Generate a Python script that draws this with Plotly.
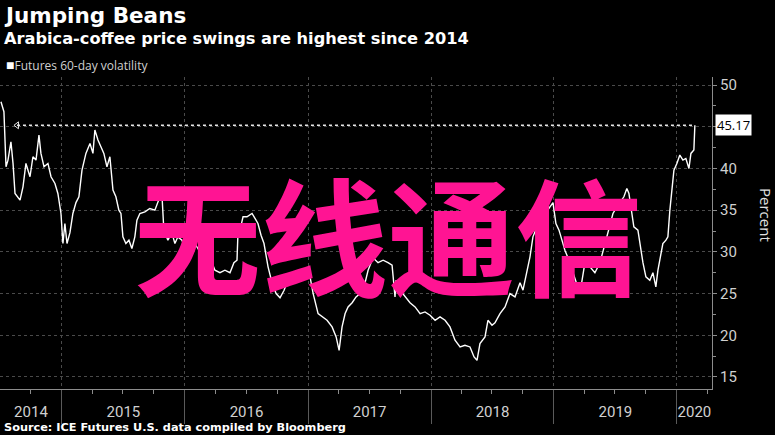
import plotly.graph_objects as go
import pandas as pd

# ---- data ----
decimal_years = [
    2014.504, 2014.528, 2014.545, 2014.561, 2014.585, 2014.602, 2014.618, 2014.642, 2014.659, 2014.683,
    2014.707, 2014.740, 2014.764, 2014.789, 2014.813, 2014.829, 2014.854, 2014.886, 2014.911, 2014.943,
    2014.967, 2014.992, 2015.008, 2015.024, 2015.041, 2015.065, 2015.089, 2015.114, 2015.138, 2015.163,
    2015.195, 2015.228, 2015.252, 2015.268, 2015.293, 2015.317, 2015.341, 2015.366, 2015.390, 2015.415,
    2015.439, 2015.463, 2015.480, 2015.496, 2015.520, 2015.545, 2015.569, 2015.593, 2015.610, 2015.634,
    2015.675, 2015.715, 2015.756, 2015.797, 2015.813, 2015.829, 2015.862, 2015.894, 2015.919, 2015.943,
    2015.976, 2016.008, 2016.041, 2016.081, 2016.122, 2016.163, 2016.203, 2016.220, 2016.244, 2016.285,
    2016.325, 2016.366, 2016.398, 2016.423, 2016.431, 2016.447, 2016.472, 2016.504, 2016.545, 2016.569,
    2016.593, 2016.618, 2016.642, 2016.675, 2016.707, 2016.740, 2016.772, 2016.805, 2016.837, 2016.870,
    2016.902, 2016.935, 2016.976, 2017.008, 2017.041, 2017.081, 2017.114, 2017.154, 2017.195, 2017.228,
    2017.252, 2017.276, 2017.301, 2017.325, 2017.358, 2017.390, 2017.423, 2017.455, 2017.488, 2017.528,
    2017.569, 2017.610, 2017.650, 2017.683, 2017.707, 2017.715, 2017.748, 2017.789, 2017.829, 2017.870,
    2017.911, 2017.951, 2017.992, 2018.033, 2018.073, 2018.114, 2018.154, 2018.195, 2018.236, 2018.276,
    2018.317, 2018.350, 2018.374, 2018.398, 2018.439, 2018.463, 2018.496, 2018.520, 2018.561, 2018.602,
    2018.642, 2018.683, 2018.724, 2018.748, 2018.780, 2018.805, 2018.829, 2018.862, 2018.894, 2018.927,
    2018.959, 2018.992, 2019.016, 2019.041, 2019.065, 2019.089, 2019.122, 2019.154, 2019.187, 2019.211,
    2019.252, 2019.293, 2019.333, 2019.374, 2019.407, 2019.431, 2019.455, 2019.480, 2019.512, 2019.537,
    2019.569, 2019.593, 2019.610, 2019.626, 2019.650, 2019.683, 2019.699, 2019.724, 2019.748, 2019.780,
    2019.805, 2019.829, 2019.846, 2019.870, 2019.886, 2019.911, 2019.927, 2019.943, 2019.959, 2019.976,
    2020.000, 2020.024, 2020.049, 2020.073, 2020.098, 2020.114, 2020.138, 2020.146,
]
volatility = [
    48.0, 46.8, 40.2, 41.0, 43.2, 40.6, 37.0, 36.6, 36.2, 37.8,
    40.6, 39.0, 41.4, 41.0, 44.0, 41.8, 40.2, 40.6, 39.0, 38.2,
    37.0, 34.6, 31.0, 33.4, 31.0, 32.3, 34.6, 35.9, 36.6, 39.8,
    41.8, 43.0, 41.8, 44.6, 43.4, 42.6, 41.8, 40.2, 41.4, 37.4,
    36.6, 35.0, 34.6, 31.8, 31.0, 31.4, 30.4, 31.8, 33.8, 34.6,
    34.8, 35.2, 35.0, 36.6, 37.0, 32.6, 31.4, 32.3, 31.0, 31.8,
    31.4, 30.2, 29.9, 31.0, 30.0, 29.5, 28.7, 28.7, 27.8, 27.5,
    27.8, 27.5, 28.7, 29.0, 32.3, 32.6, 34.2, 34.2, 34.6, 34.0,
    33.4, 32.0, 31.0, 28.2, 26.3, 25.0, 24.5, 25.4, 26.6, 27.0,
    27.5, 27.5, 27.0, 27.6, 25.0, 22.6, 22.2, 21.8, 21.0, 19.8,
    18.2, 21.0, 22.6, 23.4, 23.9, 24.6, 25.0, 25.8, 27.8, 29.3,
    28.7, 29.0, 28.7, 28.4, 24.6, 26.6, 25.4, 24.6, 23.9, 23.4,
    22.6, 22.8, 22.4, 21.8, 22.2, 21.8, 21.0, 19.4, 18.6, 18.8,
    18.6, 17.4, 17.0, 19.0, 19.8, 21.8, 21.2, 21.5, 22.6, 23.4,
    25.0, 24.6, 26.3, 25.4, 27.5, 29.4, 31.8, 33.0, 33.5, 34.5,
    35.2, 35.9, 33.4, 32.6, 31.4, 30.2, 29.0, 27.5, 26.0, 25.0,
    28.7, 28.2, 27.5, 28.7, 30.5, 31.8, 33.0, 34.6, 35.4, 35.9,
    36.6, 37.6, 37.0, 35.4, 33.0, 32.6, 31.0, 28.7, 27.0, 26.6,
    27.5, 25.8, 27.8, 29.8, 31.0, 31.4, 31.8, 35.0, 37.8, 39.8,
    40.6, 41.6, 41.0, 41.2, 40.0, 41.8, 42.2, 45.17,
]
year_labels = ["2014", "2015", "2016", "2017", "2018", "2019", "2020"]
y_ticks = [15, 20, 25, 30, 35, 40, 45, 50]
y_ticktext = ["15", "20", "25", "30", "35", "40", "", "50"]  # 45 sits under the value box
last_value = 45.17
ref_line_start = 2014.634
x_range_years = [2014.496, 2020.285]
y_range = [13.56, 50.96]


def to_date(y):
    yr = int(y // 1)
    start = pd.Timestamp(year=yr, month=1, day=1)
    end = pd.Timestamp(year=yr + 1, month=1, day=1)
    return start + (end - start) * (y - yr)


dates = [to_date(v) for v in decimal_years]
x_start, x_end = to_date(x_range_years[0]), to_date(x_range_years[1])

year_starts = [pd.Timestamp(year=int(y) + 1, month=1, day=1) for y in year_labels[:-1]]
label_pos = []
for lab in year_labels:
    a = max(pd.Timestamp(year=int(lab), month=1, day=1), x_start)
    b = min(pd.Timestamp(year=int(lab) + 1, month=1, day=1), x_end)
    label_pos.append(a + (b - a) / 2)

GRID = "#4a4a4a"
AXIS = "#8c8c8c"
TXT = "#d0d0d0"

fig = go.Figure()
fig.add_trace(go.Scatter(
    x=[to_date(ref_line_start), dates[-1]], y=[last_value, last_value],
    mode="lines", line=dict(color="#e8e8e8", width=1.6, dash="dot"),
    hoverinfo="skip", showlegend=False))
fig.add_trace(go.Scatter(
    x=[to_date(ref_line_start)], y=[last_value], mode="markers",
    marker=dict(symbol="triangle-left-open", size=6, color="#e8e8e8", line=dict(width=1, color="#e8e8e8")),
    hoverinfo="skip", showlegend=False))
fig.add_trace(go.Scatter(
    x=dates, y=volatility, mode="lines", line=dict(color="white", width=1.4),
    name="Futures 60-day volatility", showlegend=False))
fig.add_trace(go.Scatter(
    x=dates, y=volatility, xaxis="x2", mode="lines", line=dict(width=0),
    opacity=0, hoverinfo="skip", showlegend=False))

fig.update_layout(
    width=775, height=435,
    paper_bgcolor="black", plot_bgcolor="black",
    margin=dict(l=0, r=63, t=77, b=46),
    xaxis=dict(
        type="date", range=[x_start, x_end],
        tickvals=year_starts, showticklabels=False,
        ticks="outside", ticklen=34, tickcolor="#5a5a5a", tickwidth=1,
        showgrid=True, gridcolor=GRID, griddash="dot", gridwidth=1,
        showline=True, linecolor=AXIS, linewidth=1, zeroline=False,
        minor=dict(dtick="M3", tick0="2014-01-01", ticks="outside", ticklen=4,
                   tickcolor=AXIS, showgrid=False),
    ),
    xaxis2=dict(
        type="date", range=[x_start, x_end], overlaying="x", anchor="y", side="bottom",
        tickvals=label_pos, ticktext=year_labels,
        ticks="outside", ticklen=9, tickcolor="rgba(0,0,0,0)",
        showgrid=False, showline=False, zeroline=False,
        tickfont=dict(family="Liberation Sans Narrow, Roboto, sans-serif", size=15, color=TXT),
    ),
    yaxis=dict(
        side="right", range=y_range, tickvals=y_ticks, ticktext=y_ticktext,
        ticks="outside", ticklen=4, tickcolor=AXIS,
        showline=True, linecolor=AXIS, linewidth=1,
        showgrid=True, gridcolor=GRID, griddash="dot", zeroline=False,
        tickfont=dict(family="Liberation Sans Narrow, Roboto, sans-serif", size=15, color=TXT),
        minor=dict(dtick=2.5, tick0=0, ticks="outside", ticklen=3, tickcolor=AXIS, showgrid=False),
    ),
    showlegend=False,
)

PH = 312.0
def py(p):
    return (389 - p) / PH

ann = [
    dict(text="<b>Jumping Beans</b>", x=0.003, y=py(15), xanchor="left", yanchor="middle",
         font=dict(family="DejaVu Sans", size=21.5, color="white")),
    dict(text="<b>Arabica-coffee price swings are highest since 2014</b>", x=0.003, y=py(38),
         xanchor="left", yanchor="middle", font=dict(family="DejaVu Sans", size=16.2, color="white")),
    dict(text="<span style='color:white;font-size:14px'>■</span>Futures 60-day volatility", x=0.006, y=py(65),
         xanchor="left", yanchor="middle", font=dict(family="Open Sans, sans-serif", size=12, color=TXT)),
    dict(text="<b>Source: ICE Futures U.S. data compiled by Bloomberg</b>", x=0.003, y=py(427),
         xanchor="left", yanchor="middle", font=dict(family="DejaVu Sans", size=11.3, color="white")),
    dict(text="Percent", x=766 / 712, y=py(215), xanchor="center", yanchor="middle", textangle=90,
         font=dict(family="Open Sans, sans-serif", size=15, color="#e0e0e0")),
    dict(text="<b>无线通信</b>", x=388 / 712, y=py(232), xanchor="center", yanchor="middle",
         font=dict(family="Noto Sans CJK SC", size=127, color="#FF1493")),
]
for a in ann:
    a.update(xref="paper", yref="paper", showarrow=False)
    fig.add_annotation(**a)

fig.add_annotation(text=f"{last_value:.2f}", xref="paper", yref="y", x=1.004, y=last_value,
                   xanchor="left", yanchor="middle", showarrow=False, bgcolor="white",
                   borderpad=1, font=dict(family="Open Sans, sans-serif", size=13, color="black"))

fig.write_html("out.html", config={"displayModeBar": False},
               post_script="document.body.style.margin='0';document.body.style.overflow='hidden';")
